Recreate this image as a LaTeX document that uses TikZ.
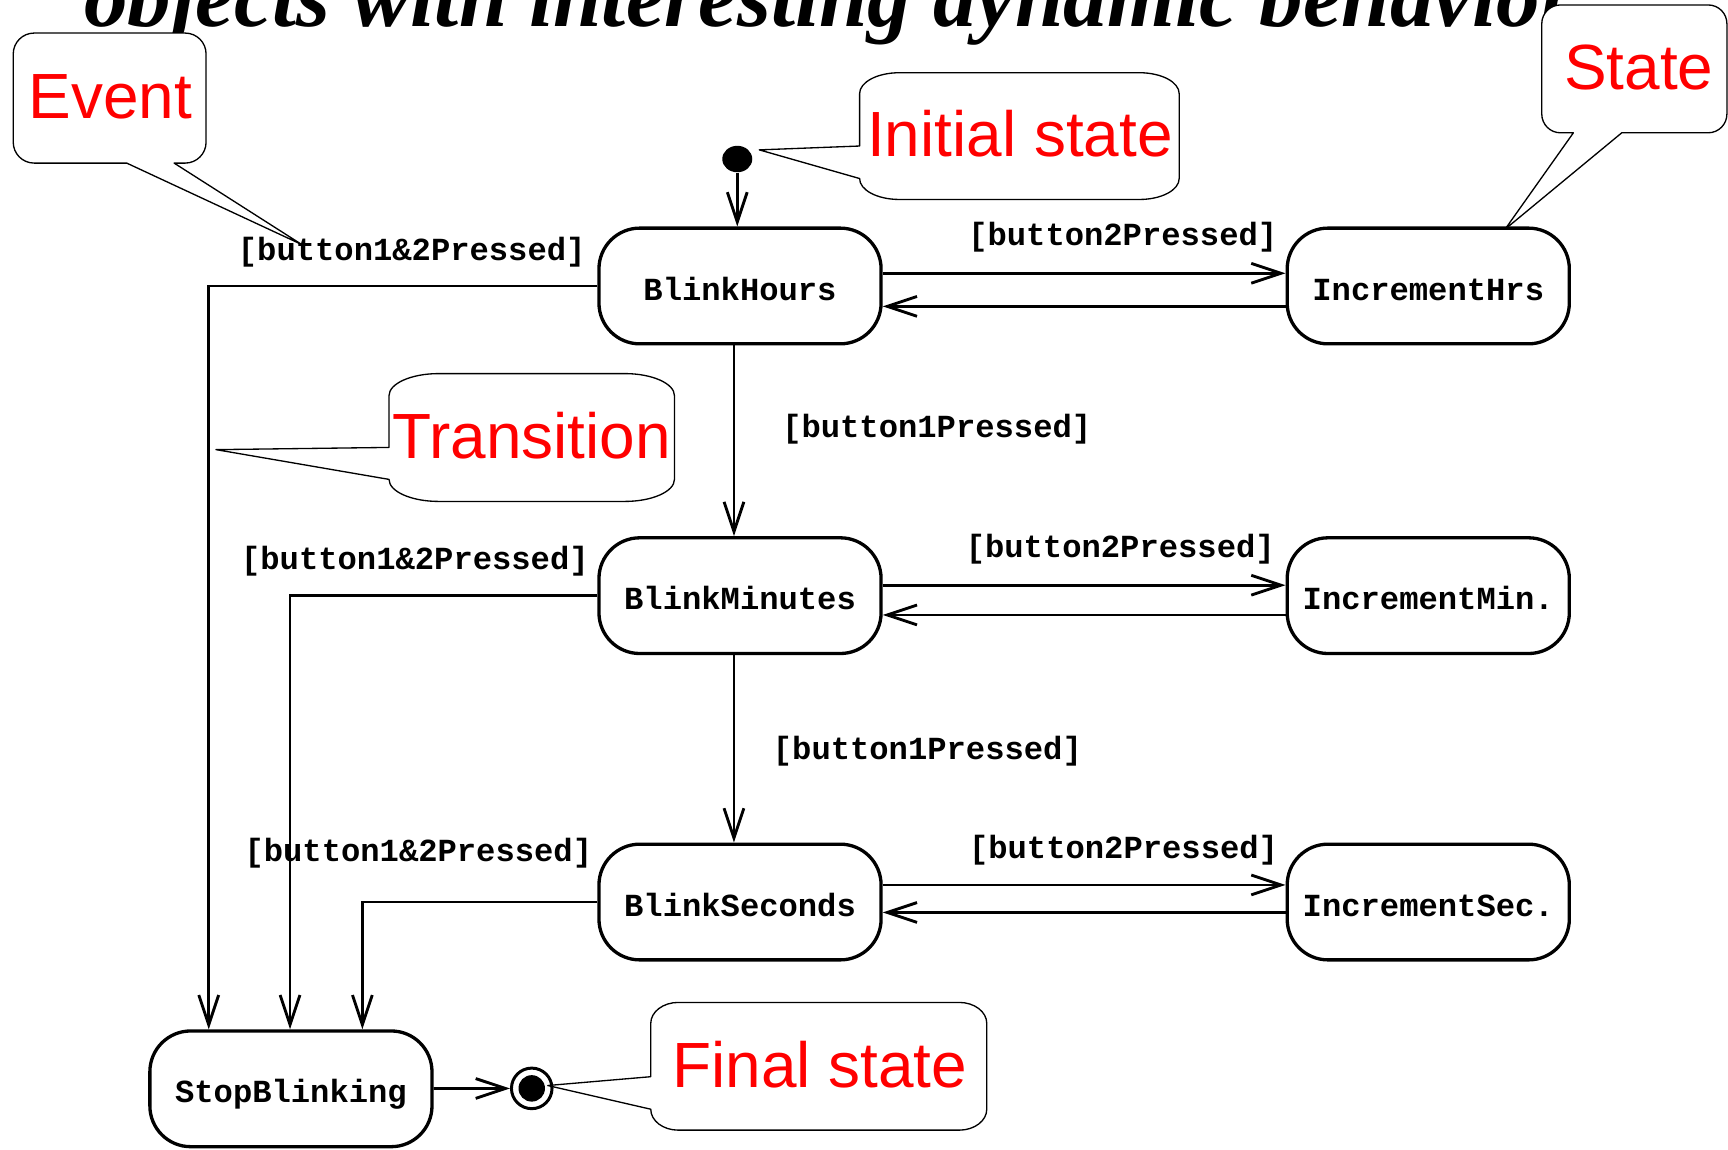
\documentclass[tikz,border=0pt]{standalone}
\usepackage{fontspec}
\usetikzlibrary{arrows.meta,shapes.geometric}
\setmainfont{Liberation Serif}
\newfontfamily\codefont{Liberation Mono}
\newfontfamily\notefont{Liberation Sans}
\definecolor{notered}{RGB}{255,0,0}
\begin{document}
\begin{tikzpicture}[x=0.5pt,y=-0.5pt,
  statebox/.style={draw, line width=1.5pt, rounded corners=18.5pt,
    minimum width=128pt, minimum height=52.5pt, inner sep=0pt,
    text height=12.8pt, text depth=0pt,
    font=\codefont\bfseries\fontsize{14.6}{17}\selectfont},
  guard/.style={inner sep=0pt, anchor=base,
    font=\codefont\bfseries\fontsize{14.6}{17}\selectfont},
  trans/.style={line width=1.3pt, -{Straight Barb[length=13.5pt,width=9pt]}},
  note/.style={draw, line width=0.6pt, line join=round, fill=white},
  notetext/.style={inner sep=0pt, anchor=base, text=notered,
    font=\notefont\fontsize{29}{32}\selectfont},
]
\useasboundingbox (0,0) rectangle (1568,1043);
\clip (0,0) rectangle (1568,1043);

% heading, cut by the page top
\node[anchor=base west, inner sep=0pt,
  font=\bfseries\itshape\fontsize{39.5}{44}\selectfont] (title) at (76,24)
  {objects with interesting dynamic behavior};

% callout: Event
\draw[note] (158,148) -- (274,222) -- (115,148) -- (31,148)
  .. controls (20.5,148) and (12,139.5) .. (12,129) -- (12,49)
  .. controls (12,38.5) and (20.5,30) .. (31,30) -- (168,30)
  .. controls (178.5,30) and (187,38.5) .. (187,49) -- (187,129)
  .. controls (187,139.5) and (178.5,148) .. (168,148) -- cycle;
\node[notetext] (tevent) at (100,107.5) {Event};

% callout: Initial state
\draw[note] (780,132.5) -- (689,136) -- (780,162)
  .. controls (780,172.5) and (796.1,181) .. (816,181) -- (1034,181)
  .. controls (1053.9,181) and (1070,172.5) .. (1070,162) -- (1070,85)
  .. controls (1070,74.5) and (1053.9,66) .. (1034,66) -- (816,66)
  .. controls (796.1,66) and (780,74.5) .. (780,85) -- cycle;
\node[notetext] (tinit) at (925.5,142) {Initial state};

% callout: State
\draw[note] (1471.6,120.5) -- (1365.7,208) -- (1427.7,120.5) -- (1416,120.5)
  .. controls (1406.6,120.5) and (1399,112.9) .. (1399,103.5) -- (1399,21.5)
  .. controls (1399,12.1) and (1406.6,4.5) .. (1416,4.5) -- (1550,4.5)
  .. controls (1559.4,4.5) and (1567,12.1) .. (1567,21.5) -- (1567,103.5)
  .. controls (1567,112.9) and (1559.4,120.5) .. (1550,120.5) -- cycle;
\node[notetext] (tstate) at (1487,81.5) {State};

% callout: Transition
\draw[note] (353,406) -- (196,408) -- (353,435)
  .. controls (353,446) and (373.2,455) .. (398,455) -- (567,455)
  .. controls (591.8,455) and (612,446) .. (612,435) -- (612,359)
  .. controls (612,348) and (591.8,339) .. (567,339) -- (398,339)
  .. controls (373.2,339) and (353,348) .. (353,359) -- cycle;
\node[notetext] (ttrans) at (482.5,416) {Transition};

% callout: Final state
\draw[note] (590.5,977) -- (497,985) -- (590.5,1006.5)
  .. controls (590.5,1017) and (601.7,1025.5) .. (615.5,1025.5) -- (870.4,1025.5)
  .. controls (884.2,1025.5) and (895.4,1017) .. (895.4,1006.5) -- (895.4,928.6)
  .. controls (895.4,918.1) and (884.2,909.6) .. (870.4,909.6) -- (615.5,909.6)
  .. controls (601.7,909.6) and (590.5,918.1) .. (590.5,928.6) -- cycle;
\node[notetext] (tfinal) at (744,986.5) {Final state};

% states
\node[statebox] (BH) at (671.5,259.5) {BlinkHours};
\node[statebox] (IH) at (1296,259.5) {IncrementHrs};
\node[statebox] (BM) at (671.5,540.5) {BlinkMinutes};
\node[statebox] (IM) at (1296,540.5) {IncrementMin.};
\node[statebox] (BS) at (671.5,818.5) {BlinkSeconds};
\node[statebox] (IS) at (1296,818.5) {IncrementSec.};
\node[statebox] (SB) at (264,988) {StopBlinking};

% pseudo states
\node[ellipse, fill, inner sep=0pt, minimum width=13.6pt, minimum height=12pt] (init) at (669,144.3) {};
\node[circle, draw, line width=1.35pt, inner sep=0pt, minimum size=18.4pt] (fin) at (482.5,987.6) {};
\fill (fin.center) circle (6pt);

% transitions
\draw[trans] (init) -- (init |- BH.north);
\draw[trans] ([yshift=5.75pt]BH.east) -- ([yshift=5.75pt]IH.west);
\draw[trans] ([yshift=-9.25pt]IH.west) -- ([yshift=-9.25pt]BH.east);
\draw[trans] ([yshift=4.75pt]BM.east) -- ([yshift=4.75pt]IM.west);
\draw[trans] ([yshift=-8.75pt]IM.west) -- ([yshift=-8.75pt]BM.east);
\draw[trans] ([yshift=7.75pt]BS.east) -- ([yshift=7.75pt]IS.west);
\draw[trans] ([yshift=-4.75pt]IS.west) -- ([yshift=-4.75pt]BS.east);
\draw[trans] ([xshift=-2.75pt]BH.south) -- ([xshift=-2.75pt]BM.north);
\draw[trans] ([xshift=-2.75pt]BM.south) -- ([xshift=-2.75pt]BS.north);
\draw[trans] (BH.west) -| ([xshift=-37.3pt]SB.north);
\draw[trans] (BM.west) -| ([xshift=-0.4pt]SB.north);
\draw[trans] (BS.west) -| ([xshift=32.4pt]SB.north);
\draw[trans] (SB) -- (fin);

% guards
\node[guard] (g1) at (373.6,236.5) {[button1\&2Pressed]};
\node[guard] (g2) at (1018.8,222.5) {[button2Pressed]};
\node[guard] (g3) at (850,397) {[button1Pressed]};
\node[guard] (g4) at (376.5,517) {[button1\&2Pressed]};
\node[guard] (g5) at (1016.5,506) {[button2Pressed]};
\node[guard] (g6) at (841.5,689) {[button1Pressed]};
\node[guard] (g7) at (379.6,781.3) {[button1\&2Pressed]};
\node[guard] (g8) at (1019.5,779) {[button2Pressed]};
\end{tikzpicture}
\end{document}
